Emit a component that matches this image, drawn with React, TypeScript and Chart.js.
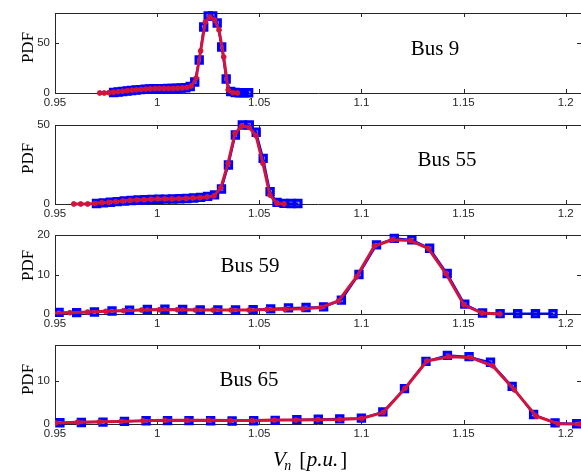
import React, { useEffect, useRef } from 'react';
import { Chart, registerables } from 'chart.js';
Chart.register(...registerables);

// ---------- data ----------
const xTicks = [0.95, 1, 1.05, 1.1, 1.15, 1.2];
const xTickLabels = ['0.95', '1', '1.05', '1.1', '1.15', '1.2'];
const X_MIN = 0.95;
const X_MAX = 1.2075;

const busNames = ['Bus 9', 'Bus 55', 'Bus 59', 'Bus 65'];
const yMaxes = [80, 50, 20, 18.3];
const yTicks1 = [0, 50];
const yTicks2 = [0, 50];
const yTicks3 = [0, 10, 20];
const yTicks4 = [0, 10];

// Bus 9
const bus9BlueX = [0.9787, 0.9809, 0.9831, 0.9853, 0.9875, 0.9897, 0.9919, 0.9941, 0.9963, 0.9985, 1.0008, 1.003, 1.0052, 1.0074, 1.0096, 1.0118, 1.014, 1.0162, 1.0184, 1.0206, 1.0228, 1.025, 1.0272, 1.0294, 1.0316, 1.0338, 1.036, 1.0382, 1.0404, 1.0426, 1.0448];
const bus9BlueY = [0.5, 1.0, 1.5, 2.0, 2.5, 3.0, 3.4, 3.8, 4.0, 4.2, 4.3, 4.4, 4.5, 4.6, 4.8, 5.0, 5.3, 6.5, 11, 33, 66, 77, 77, 70, 46, 14, 1.5, 0.5, 0.3, 0.2, 0.2];
const bus9RedX = [0.9719, 0.9741, 0.9764, 0.9786, 0.9809, 0.9831, 0.9854, 0.9876, 0.9899, 0.9921, 0.9944, 0.9966, 0.9989, 1.0011, 1.0034, 1.0056, 1.0079, 1.0101, 1.0123, 1.0146, 1.0168, 1.0191, 1.0213, 1.0236, 1.0258, 1.0281, 1.0303, 1.0326, 1.0348, 1.0371, 1.0393];
const bus9RedY = [0, 0, 0.3, 0.8, 1.3, 1.8, 2.3, 2.8, 3.2, 3.6, 3.9, 4.2, 4.4, 4.5, 4.5, 4.5, 4.6, 4.8, 5.0, 5.5, 7.0, 15, 42, 71, 76, 73, 63, 36, 3, 0.3, 0];

// Bus 55
const bus55BlueX = [0.9703, 0.9737, 0.9771, 0.9805, 0.9839, 0.9873, 0.9907, 0.9941, 0.9975, 1.0009, 1.0043, 1.0077, 1.0111, 1.0145, 1.0179, 1.0213, 1.0247, 1.0281, 1.0315, 1.0349, 1.0383, 1.0417, 1.0451, 1.0485, 1.0519, 1.0553, 1.0587, 1.0621, 1.0655, 1.0689];
const bus55BlueY = [0.3, 0.7, 1.1, 1.5, 1.9, 2.2, 2.5, 2.7, 2.9, 3.0, 3.1, 3.2, 3.3, 3.5, 3.8, 4.2, 4.8, 5.8, 9.5, 24.7, 43.7, 50, 50, 45.4, 28.9, 7.8, 1.0, 0.4, 0.3, 0.3];
const bus55RedX = [0.9592, 0.9626, 0.966, 0.9694, 0.9729, 0.9763, 0.9797, 0.9832, 0.9866, 0.99, 0.9935, 0.9969, 1.0003, 1.0038, 1.0072, 1.0106, 1.0141, 1.0175, 1.0209, 1.0244, 1.0278, 1.0312, 1.0347, 1.0381, 1.0415, 1.045, 1.0484, 1.0518, 1.0552, 1.0587, 1.0621];
const bus55RedY = [0, 0, 0, 0.3, 0.8, 1.05, 1.5, 1.9, 2.3, 2.5, 2.7, 3.0, 3.2, 3.2, 3.2, 3.4, 3.6, 3.8, 4.0, 4.4, 5.1, 10.3, 25.7, 44.7, 49.4, 48.5, 43.2, 25.7, 5.7, 0.4, 0];

// Bus 59
const bus59BlueX = [0.952, 0.9606, 0.9693, 0.9779, 0.9865, 0.9952, 1.0038, 1.0125, 1.0211, 1.0297, 1.0384, 1.047, 1.0556, 1.0643, 1.0729, 1.0815, 1.0902, 1.0988, 1.1074, 1.1161, 1.1247, 1.1334, 1.142, 1.1506, 1.1593, 1.1679, 1.1765, 1.1852, 1.1938];
const bus59BlueY = [0.4, 0.35, 0.5, 0.75, 0.95, 1.15, 1.2, 1.15, 1.05, 1.0, 1.0, 1.1, 1.3, 1.55, 1.65, 1.8, 3.5, 10, 17.5, 19.15, 18.8, 16.65, 10.25, 2.5, 0.25, 0.08, 0.1, 0.1, 0.1];
const bus59RedX = [0.9485, 0.9573, 0.966, 0.9748, 0.9836, 0.9924, 1.0011, 1.0099, 1.0187, 1.0274, 1.0362, 1.045, 1.0537, 1.0625, 1.0713, 1.0801, 1.0888, 1.0976, 1.1064, 1.1151, 1.1239, 1.1327, 1.1414, 1.1502, 1.159, 1.1678];
const bus59RedY = [0.2, 0.33, 0.5, 0.67, 0.83, 1.0, 1.08, 1.08, 1.0, 1.0, 1.0, 1.0, 1.17, 1.2, 1.3, 1.65, 3.3, 9.4, 17.2, 18.8, 18.6, 16.6, 10.25, 2.3, 0.25, 0];

// Bus 65
const bus65BlueX = [0.9524, 0.9629, 0.9735, 0.984, 0.9946, 1.0051, 1.0156, 1.0262, 1.0367, 1.0473, 1.0578, 1.0684, 1.0789, 1.0894, 1.1, 1.1105, 1.1211, 1.1316, 1.1421, 1.1527, 1.1632, 1.1738, 1.1843, 1.1948, 1.2054];
const bus65BlueY = [0.3, 0.35, 0.45, 0.62, 0.75, 0.78, 0.78, 0.75, 0.7, 0.75, 0.85, 1.0, 1.1, 1.2, 1.35, 2.8, 8.2, 14.5, 15.9, 15.6, 14.3, 8.7, 2.2, 0.25, 0.05];
const bus65RedX = [0.9503, 0.961, 0.9717, 0.9824, 0.9931, 1.0038, 1.0145, 1.0252, 1.0359, 1.0466, 1.0573, 1.0679, 1.0786, 1.0893, 1.1, 1.1107, 1.1214, 1.1321, 1.1428, 1.1535, 1.1642, 1.1749, 1.1856, 1.1963, 1.207];
const bus65RedY = [0.25, 0.4, 0.5, 0.6, 0.75, 0.85, 0.85, 0.85, 0.8, 0.8, 0.9, 0.9, 1.0, 1.05, 1.25, 2.7, 8.3, 14.6, 15.6, 15.4, 13.5, 7.9, 1.8, 0.05, 0];

const blueXs = [bus9BlueX, bus55BlueX, bus59BlueX, bus65BlueX];
const blueYs = [bus9BlueY, bus55BlueY, bus59BlueY, bus65BlueY];
const redXs = [bus9RedX, bus55RedX, bus59RedX, bus65RedX];
const redYs = [bus9RedY, bus55RedY, bus59RedY, bus65RedY];
const yTickSets = [yTicks1, yTicks2, yTicks3, yTicks4];

// ---------- layout / style ----------
const W = 581;
const H = 473;
const LAYOUT = [
  { top: 13, bottom: 93, pdfY: 47.5, busX: 435, busY: 55 },
  { top: 125, bottom: 204, pdfY: 158.3, busX: 447, busY: 166 },
  { top: 235, bottom: 314, pdfY: 265.3, busX: 250, busY: 272 },
  { top: 345, bottom: 424, pdfY: 379.5, busX: 249, busY: 385.5 },
];
const X_AXIS_H = 20;
const Y_AXIS_W = 55;
const AX = '#262626';
const BLUE = '#0000ff';
const RED = '#d0143e';
const TICK_FONT = { family: '"Liberation Sans", Arial, sans-serif', size: 11.5 };

function pts(xs: number[], ys: number[]) {
  return xs.map((x, i) => ({ x, y: ys[i] }));
}

function makeConfig(i: number): any {
  const L = LAYOUT[i];
  const yt = yTickSets[i];
  const isLast = i === LAYOUT.length - 1;
  const framePlugin = {
    id: 'frame' + i,
    beforeDatasetsDraw(chart: any) {
      const { ctx, chartArea: a, scales } = chart;
      ctx.save();
      ctx.strokeStyle = AX;
      ctx.lineWidth = 1;
      ctx.beginPath();
      const ty = Math.round(a.top) + 0.5;
      ctx.moveTo(a.left, ty);
      ctx.lineTo(a.right, ty);
      const tl = 4;
      xTicks.forEach((v) => {
        const px = Math.round(scales.x.getPixelForValue(v)) + 0.5;
        ctx.moveTo(px, a.bottom);
        ctx.lineTo(px, a.bottom - tl);
        ctx.moveTo(px, a.top);
        ctx.lineTo(px, a.top + tl);
      });
      yt.forEach((v) => {
        const py = Math.round(scales.y.getPixelForValue(v)) + 0.5;
        ctx.moveTo(a.left, py);
        ctx.lineTo(a.left + tl, py);
        ctx.moveTo(a.right, py);
        ctx.lineTo(a.right - tl, py);
      });
      ctx.stroke();
      ctx.restore();
    },
    afterDraw(chart: any) {
      const { ctx } = chart;
      ctx.save();
      ctx.fillStyle = '#000';
      // y title
      ctx.save();
      ctx.translate(32.5, L.pdfY);
      ctx.rotate(-Math.PI / 2);
      ctx.font = '17px "Liberation Serif", "Times New Roman", serif';
      ctx.textAlign = 'center';
      ctx.textBaseline = 'alphabetic';
      ctx.fillText('PDF', 0, 0);
      ctx.restore();
      // bus label
      ctx.font = '21px "Liberation Serif", "Times New Roman", serif';
      ctx.textAlign = 'center';
      ctx.textBaseline = 'alphabetic';
      ctx.fillText(busNames[i], L.busX, L.busY);
      if (isLast) {
        ctx.textAlign = 'left';
        let x = 273;
        const base = 466;
        ctx.font = 'italic 21px "Liberation Serif", "Times New Roman", serif';
        ctx.fillText('V', x, base);
        x += ctx.measureText('V').width - 1.5;
        ctx.font = 'italic 14px "Liberation Serif", "Times New Roman", serif';
        ctx.fillText('n', x, base + 4);
        x += ctx.measureText('n').width + 8;
        ctx.font = '21px "Liberation Serif", "Times New Roman", serif';
        ctx.fillText('[', x, base);
        x += ctx.measureText('[').width + 0.5;
        ctx.font = 'italic 21px "Liberation Serif", "Times New Roman", serif';
        ctx.fillText('p.u.', x, base);
        x += ctx.measureText('p.u.').width + 2;
        ctx.font = '21px "Liberation Serif", "Times New Roman", serif';
        ctx.fillText(']', x, base);
      }
      ctx.restore();
    },
  };

  return {
    type: 'line',
    data: {
      datasets: [
        {
          data: pts(redXs[i], redYs[i]),
          borderColor: RED,
          backgroundColor: RED,
          borderWidth: 3,
          pointStyle: 'circle',
          pointRadius: 2.4,
          pointBorderWidth: 1,
          pointBackgroundColor: RED,
          pointBorderColor: RED,
          tension: 0,
          order: 0,
          clip: { left: 0, top: false, right: false, bottom: false },
        },
        {
          data: pts(blueXs[i], blueYs[i]),
          borderColor: BLUE,
          backgroundColor: BLUE,
          borderWidth: 2,
          pointStyle: 'rect',
          pointRadius: 4.5,
          pointBorderWidth: 3,
          pointBackgroundColor: 'rgba(0,0,255,0.45)',
          pointBorderColor: BLUE,
          tension: 0,
          order: 1,
          clip: { left: 0, top: false, right: false, bottom: false },
        },
      ],
    },
    options: {
      animation: false,
      responsive: false,
      devicePixelRatio: 1,
      events: [],
      layout: {
        autoPadding: false,
        padding: { top: L.top, bottom: H - L.bottom - X_AXIS_H, left: 0, right: 0 },
      },
      plugins: { legend: { display: false }, tooltip: { enabled: false }, title: { display: false } },
      scales: {
        x: {
          type: 'linear',
          min: X_MIN,
          max: X_MAX,
          afterBuildTicks: (s: any) => {
            s.ticks = xTicks.map((v) => ({ value: v }));
          },
          afterFit: (s: any) => {
            s.height = X_AXIS_H;
          },
          grid: { display: false, drawTicks: false },
          border: { display: true, color: AX, width: 1 },
          ticks: {
            autoSkip: false,
            maxRotation: 0,
            padding: 3,
            color: AX,
            font: TICK_FONT,
            callback: (_v: any, idx: number) => xTickLabels[idx],
          },
        },
        y: {
          type: 'linear',
          min: 0,
          max: yMaxes[i],
          afterBuildTicks: (s: any) => {
            s.ticks = yt.map((v) => ({ value: v }));
          },
          afterFit: (s: any) => {
            s.width = Y_AXIS_W;
          },
          grid: { display: false, drawTicks: false },
          border: { display: true, color: AX, width: 1 },
          ticks: {
            autoSkip: false,
            padding: 5,
            color: AX,
            font: TICK_FONT,
            callback: (_v: any, idx: number) => String(yt[idx]),
          },
        },
      },
    },
    plugins: [framePlugin],
  };
}

export default function App() {
  const refs = useRef<(HTMLCanvasElement | null)[]>([]);
  useEffect(() => {
    const charts = LAYOUT.map((_, i) => new Chart(refs.current[i] as HTMLCanvasElement, makeConfig(i)));
    return () => charts.forEach((c) => c.destroy());
  }, []);
  return (
    <div style={{ position: 'absolute', left: 0, top: 0, width: W, height: H, background: '#fff', overflow: 'hidden' }}>
      {LAYOUT.map((_, i) => (
        <canvas
          key={i}
          ref={(el) => {
            refs.current[i] = el;
          }}
          width={W}
          height={H}
          style={{ position: 'absolute', left: 0, top: 0, width: W, height: H }}
        />
      ))}
    </div>
  );
}
